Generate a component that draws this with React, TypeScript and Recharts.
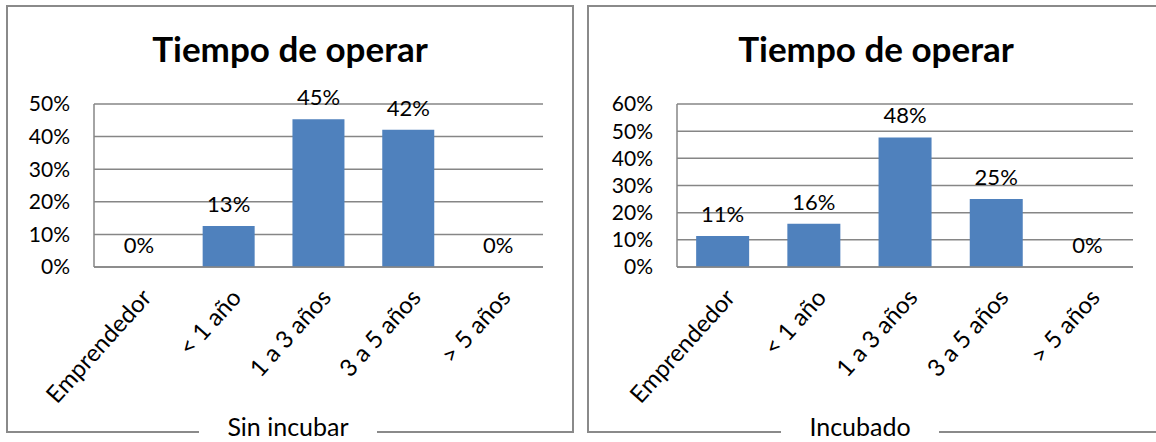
import React from 'react';
import { ComposedChart, Bar, Line, XAxis, YAxis, CartesianGrid, LabelList } from 'recharts';

const categories = ['Emprendedor', '< 1 año', '1 a 3 años', '3 a 5 años', '> 5 años'];
const sinIncubar = [0, 12.6, 45.3, 42.1, 0];
const incubado = [11.4, 15.9, 47.7, 25.0, 0];
const ticksLeft = [0, 10, 20, 30, 40, 50];
const ticksRight = [0, 10, 20, 30, 40, 50, 60];
const chartTitle = 'Tiempo de operar';
const panelNames = ['Sin incubar', 'Incubado'];

const FONT = 'Lato, "Open Sans", sans-serif';
const GRID = '#868686';
const BAR = '#4F81BD';

const leftData = categories.map((c, i) => ({ name: c, value: sinIncubar[i] }));
const rightData = categories.map((c, i) => ({ name: c, value: incubado[i] }));

const XTick = (props: any) => {
  const { x, y, payload } = props;
  return (
    <g transform={`translate(${x + 1},${y + 12})`}>
      <text
        textAnchor="end"
        dy="0.72em"
        transform="rotate(-48)"
        fontSize={24}
        fontFamily={FONT}
        fill="#000"
      >
        {payload.value}
      </text>
    </g>
  );
};

const fmtPct = (v: any) => `${Math.round(Number(v))}%`;

function Panel(props: {
  data: any[];
  ticks: number[];
  max: number;
  chartLeft: number;
  width: number;
  marginLeft: number;
  marginRight: number;
}) {
  const { data, ticks, max, chartLeft, width, marginLeft, marginRight } = props;
  return (
    <div style={{ position: 'absolute', left: chartLeft, top: 0 }}>
      <ComposedChart
        width={width}
        height={430}
        data={data}
        margin={{ top: 104, right: marginRight, left: marginLeft, bottom: 43 }}
        barCategoryGap="21%"
      >
        <CartesianGrid vertical={false} stroke={GRID} strokeWidth={1.5} />
        <XAxis
          dataKey="name"
          height={120}
          interval={0}
          axisLine={{ stroke: GRID, strokeWidth: 1.5 }}
          tickLine={false}
          tick={<XTick />}
        />
        <YAxis
          width={60}
          domain={[0, max]}
          ticks={ticks}
          interval={0}
          tickFormatter={(v: any) => `${v}%`}
          axisLine={{ stroke: GRID, strokeWidth: 1.5 }}
          tickLine={false}
          tickSize={0}
          tickMargin={24}
          tick={{ fontSize: 21, fontFamily: FONT, fill: '#000' }}
        />
        <Bar dataKey="value" fill={BAR} isAnimationActive={false} />
        <Line
          dataKey="value"
          stroke="none"
          dot={false}
          activeDot={false}
          isAnimationActive={false}
        >
          <LabelList
            dataKey="value"
            position="top"
            offset={14}
            formatter={fmtPct}
            style={{ fontSize: 22, fontFamily: FONT, fill: '#000' }}
          />
        </Line>
      </ComposedChart>
    </div>
  );
}

const Frame = (props: { left: number; width: number; titleCenter: number; labelCenter: number; label: string }) => {
  const { left, width, titleCenter, labelCenter, label } = props;
  return (
    <>
      <div
        style={{
          position: 'absolute',
          left,
          top: 5,
          width,
          height: 428,
          boxSizing: 'border-box',
          border: '2px solid #8a8a8a',
        }}
      />
      <div
        style={{
          position: 'absolute',
          left: titleCenter - 200,
          width: 400,
          top: 31,
          textAlign: 'center',
          fontFamily: FONT,
          fontWeight: 700,
          fontSize: 35,
          lineHeight: 1,
          color: '#000',
        }}
      >
        {chartTitle}
      </div>
      <div
        style={{
          position: 'absolute',
          left: labelCenter - 150,
          width: 300,
          top: 414,
          textAlign: 'center',
          lineHeight: 1,
        }}
      >
        <span
          style={{
            background: '#fff',
            padding: '0 28px',
            fontFamily: FONT,
            fontSize: 25,
            color: '#000',
          }}
        >
          {label}
        </span>
      </div>
    </>
  );
};

export default function App() {
  return (
    <div
      style={{
        position: 'absolute',
        left: 0,
        top: 0,
        width: 1156,
        height: 442,
        overflow: 'hidden',
        background: '#fff',
      }}
    >
      <Frame left={6} width={568} titleCenter={290} labelCenter={288} label={panelNames[0]} />
      <Frame left={587} width={620} titleCenter={876} labelCenter={860} label={panelNames[1]} />
      <Panel data={leftData} ticks={ticksLeft} max={50} chartLeft={0} width={580} marginLeft={34} marginRight={37} />
      <Panel data={rightData} ticks={ticksRight} max={60} chartLeft={580} width={576} marginLeft={37} marginRight={23} />
    </div>
  );
}
